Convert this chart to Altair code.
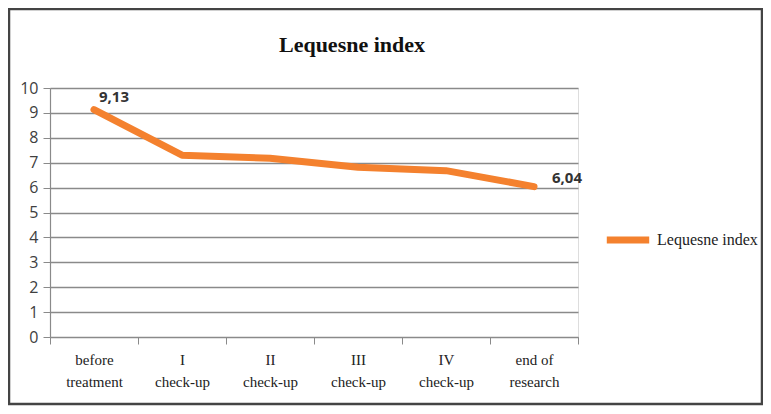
import altair as alt
import pandas as pd

categories = ["before|treatment", "I|check-up", "II|check-up", "III|check-up", "IV|check-up", "end of|research"]
values = [9.13, 7.3, 7.18, 6.82, 6.68, 6.04]
point_labels = ["9,13", "", "", "", "", "6,04"]
series = "Lequesne index"
title_text = "Lequesne index"

df = pd.DataFrame({"cat": categories, "val": values, "lbl": point_labels, "series": series})

W, H = 528, 249
ORANGE = "#F4812E"
GRID = "#8a8a8a"

x_enc = alt.X("cat:N", sort=categories, title=None,
              scale=alt.Scale(paddingInner=0, paddingOuter=0),
              axis=alt.Axis(labelAngle=0,
                            labelExpr="datum.value ? split(datum.value, '|') : ''",
                            labelFont="Liberation Serif", labelFontSize=15, labelColor="#222222",
                            labelPadding=8, labelLineHeight=22, tickBand="extent",
                            tickSize=7, tickColor=GRID, domainColor=GRID, domainWidth=1.2,
                            grid=False))
y_enc = alt.Y("val:Q", title=None,
              scale=alt.Scale(domain=[0, 10], nice=False),
              axis=alt.Axis(values=list(range(0, 11)), labelFont="Open Sans", labelFontSize=16,
                            labelColor="#404040", labelPadding=5, tickSize=7,
                            tickColor=GRID, domainColor=GRID, domainWidth=1.2,
                            gridColor=GRID, gridWidth=1.3))

line = alt.Chart(df).mark_line(strokeWidth=7, strokeCap="round", strokeJoin="round").encode(
    x=x_enc, y=y_enc,
    color=alt.Color("series:N", scale=alt.Scale(range=[ORANGE]), title=None,
                    legend=alt.Legend(orient="none", legendX=553, legendY=127, padding=0,
                                      symbolType="stroke", symbolStrokeWidth=7, symbolSize=1800,
                                      labelFont="Liberation Serif", labelFontSize=16,
                                      labelColor="#222222", labelOffset=4))
)

first = alt.Chart(df.iloc[[0]]).mark_text(font="Open Sans", fontWeight="bold", fontSize=15,
                                          color="#333333", dx=20, dy=-13).encode(
    x=x_enc, y=y_enc, text="lbl:N")
last = alt.Chart(df.iloc[[5]]).mark_text(font="Open Sans", fontWeight="bold", fontSize=15,
                                         color="#333333", align="left", dx=18, dy=-9).encode(
    x=x_enc, y=y_enc, text="lbl:N")

frame = alt.Chart(df.iloc[[0]]).mark_rect(fill=None, stroke="#444444", strokeWidth=2.5, clip=False).encode(
    x=alt.value(-41), x2=alt.value(W + 184), y=alt.value(-79), y2=alt.value(H + 67))

title = alt.Chart(df.iloc[[0]]).mark_text(font="Liberation Serif", fontSize=22, fontWeight="bold",
                                          color="#111111", align="center", baseline="middle").encode(
    x=alt.value(302), y=alt.value(-43), text=alt.value(title_text))

chart = alt.layer(frame, line, first, last, title).properties(
    width=W, height=H,
    padding={"left": 42, "top": 80, "right": 185, "bottom": 69},
    autosize=alt.AutoSizeParams(type="none"),
).configure_view(stroke=None).configure(background="white")

chart.save("out.html", embed_options={"renderer": "svg", "actions": False})
